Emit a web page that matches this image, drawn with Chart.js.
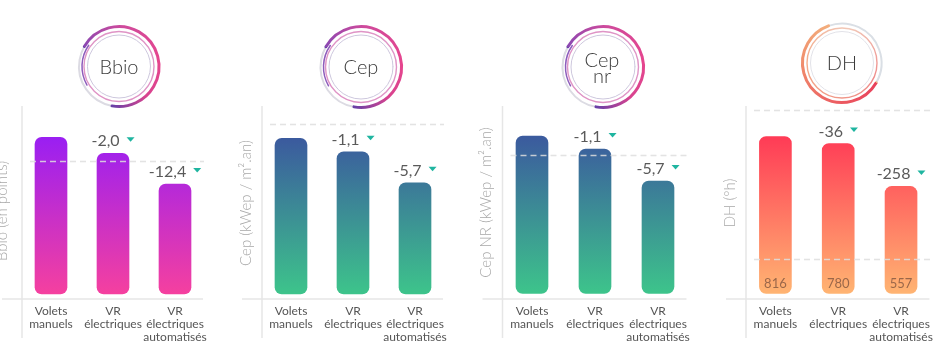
<!DOCTYPE html>
<html><head><meta charset="utf-8">
<script src="https://cdn.jsdelivr.net/npm/chart.js@4.4.1/dist/chart.umd.min.js"></script>
<style>
html,body{margin:0;padding:0;background:#fff;}
#wrap{position:relative;width:940px;height:356px;overflow:hidden;background:#fff;}
canvas{position:absolute;top:0;}
</style></head><body>
<div id="wrap">
<canvas id="c1" width="235" height="356" style="left:0px"></canvas>
<canvas id="c2" width="235" height="356" style="left:235px"></canvas>
<canvas id="c3" width="235" height="356" style="left:470px"></canvas>
<canvas id="c4" width="235" height="356" style="left:705px"></canvas>
</div>
<script>
// ---------- DATA ----------
const categories = [['Volets', 'manuels'], ['VR', 'électriques'], ['VR', 'électriques', 'automatisés']];

// Bbio: relative bar heights (Volets manuels = 100)
const bbioValues = [100, 89.8, 70.2];
const bbioDeltas = [null, '-2,0', '-12,4'];
const bbioReference = [84.9];

// Cep: relative bar heights (Volets manuels = 100)
const cepValues = [100, 91.4, 71.5];
const cepDeltas = [null, '-1,1', '-5,7'];
const cepReference = [109.2];

// Cep nr: relative bar heights (Volets manuels = 100)
const cepNrValues = [100, 91.7, 71.4];
const cepNrDeltas = [null, '-1,1', '-5,7'];
const cepNrReference = [87.9];

// DH (°h)
const dhValues = [816, 780, 557];
const dhDeltas = [null, '-36', '-258'];
const dhReference = [955, 180];

const yTitles = ['Bbio (en points)', 'Cep (kWep / m².an)', 'Cep NR (kWep / m².an)', 'DH (°h)'];
const iconLabels = [['Bbio'], ['Cep'], ['Cep', 'nr'], ['DH']];

// ---------- STYLE / LAYOUT ----------
const panels = [
  { id: 'c1', values: bbioValues, deltas: bbioDeltas, refs: bbioReference, inner: false,
    yMin: -3.19, yMax: 118.7, padL: 20, padR: 29, top: '#9a1ff2', bottom: '#f5409f',
    titleX: 7, titleY: 211, icon: { x: 119, y: 66.5, r: 40, kind: 'purple' }, iconText: iconLabels[0], title: yTitles[0] },
  { id: 'c2', values: cepValues, deltas: cepDeltas, refs: cepReference, inner: false,
    yMin: -3.21, yMax: 119.5, padL: 25, padR: 24, top: '#3b5a9e', bottom: '#3dc48b',
    titleX: 16, titleY: 203, icon: { x: 126, y: 67, r: 40.5, kind: 'purple' }, iconText: iconLabels[1], title: yTitles[1] },
  { id: 'c3', values: cepNrValues, deltas: cepNrDeltas, refs: cepNrReference, inner: false,
    yMin: -3.49, yMax: 117.8, padL: 30.5, padR: 15.5, top: '#3b5a9e', bottom: '#3dc48b',
    titleX: 21, titleY: 202.5, icon: { x: 133, y: 67, r: 40.5, kind: 'purple' }, iconText: iconLabels[2], title: yTitles[2] },
  { id: 'c4', values: dhValues, deltas: dhDeltas, refs: dhReference, inner: true,
    yMin: -28.6, yMax: 965, padL: 39, padR: 7, top: '#ff3b56', bottom: '#ffb472',
    titleX: 30, titleY: 203, icon: { x: 137, y: 63, r: 39.5, kind: 'orange' }, iconText: iconLabels[3], title: yTitles[3] }
];

function drawIcon(ctx, ic, lines) {
  const { x, y, r } = ic;
  const d = Math.PI / 180;
  ctx.save();
  ctx.lineCap = 'round';
  if (ic.kind === 'purple') {
    const s = 210 * d;
    const g = ctx.createConicGradient(s, x, y);
    g.addColorStop(0, '#8a48b2');
    g.addColorStop(0.18, '#cf4a9c');
    g.addColorStop(0.4, '#e6458e');
    g.addColorStop(0.55, '#d8438f');
    g.addColorStop(0.69, '#6a3fa6');
    g.addColorStop(1, '#6a3fa6');
    ctx.strokeStyle = '#dcdbe3'; ctx.lineWidth = 2;
    ctx.beginPath(); ctx.arc(x, y, r, 100 * d, 210 * d); ctx.stroke();
    ctx.strokeStyle = g; ctx.lineWidth = 3;
    ctx.beginPath(); ctx.arc(x, y, r, 210 * d, 460 * d); ctx.stroke();
    ctx.strokeStyle = '#8d5cbc'; ctx.lineWidth = 1.5;
    ctx.beginPath(); ctx.arc(x, y, r - 3, 150 * d, 215 * d); ctx.stroke();
    ctx.strokeStyle = '#df94c6'; ctx.lineWidth = 1.4;
    ctx.beginPath(); ctx.arc(x, y, r - 5, 0, Math.PI * 2); ctx.stroke();
    ctx.strokeStyle = '#cdc7dd'; ctx.lineWidth = 1;
    ctx.beginPath(); ctx.arc(x, y, r - 8.5, 0, Math.PI * 2); ctx.stroke();
  } else {
    const s = 30 * d;
    const g = ctx.createConicGradient(s, x, y);
    g.addColorStop(0, '#e8405a');
    g.addColorStop(0.2, '#ec5f62');
    g.addColorStop(0.42, '#f08e6c');
    g.addColorStop(0.61, '#f3ad7c');
    g.addColorStop(1, '#f3ad7c');
    ctx.strokeStyle = '#dadfe5'; ctx.lineWidth = 2;
    ctx.beginPath(); ctx.arc(x, y, r, 250 * d, 390 * d); ctx.stroke();
    ctx.strokeStyle = g; ctx.lineWidth = 3;
    ctx.beginPath(); ctx.arc(x, y, r, 30 * d, 250 * d); ctx.stroke();
    const g2 = ctx.createConicGradient(s, x, y);
    g2.addColorStop(0, '#ee8a8a');
    g2.addColorStop(0.4, '#f3a987');
    g2.addColorStop(0.7, '#f1c8b8');
    g2.addColorStop(1, '#ee8a8a');
    ctx.strokeStyle = g2; ctx.lineWidth = 1.4;
    ctx.beginPath(); ctx.arc(x, y, r - 4.5, 0, Math.PI * 2); ctx.stroke();
    ctx.strokeStyle = '#e2e2e8'; ctx.lineWidth = 1;
    ctx.beginPath(); ctx.arc(x, y, r - 8, 0, Math.PI * 2); ctx.stroke();
  }
  ctx.fillStyle = '#3c3c3c';
  ctx.font = '300 20px Lato';
  ctx.textAlign = 'center';
  ctx.textBaseline = 'alphabetic';
  if (lines.length === 1) {
    ctx.fillText(lines[0], x, y + 7);
  } else {
    ctx.fillText(lines[0], x - 1, y - 0.5);
    ctx.fillText(lines[1], x - 1, y + 16);
  }
  ctx.restore();
}

const panelPlugin = {
  id: 'panelDeco',
  beforeDatasetsDraw(chart, args, o) {
    const { ctx, chartArea: a } = chart;
    ctx.save();
    ctx.strokeStyle = '#e6e6e6';
    ctx.lineWidth = 1.5;
    ctx.beginPath();
    ctx.moveTo(a.left + 2, 106); ctx.lineTo(a.left + 2, 338);
    ctx.moveTo(a.left - 18, a.bottom); ctx.lineTo(a.right - 3, a.bottom);
    ctx.stroke();
    ctx.restore();
  },
  afterDatasetsDraw(chart, args, o) {
    const { ctx, chartArea: a } = chart;
    const ys = chart.scales.y;
    const p = o.panel;
    ctx.save();
    ctx.strokeStyle = 'rgba(222,222,222,0.85)';
    ctx.lineWidth = 1.5;
    ctx.setLineDash([6, 4]);
    p.refs.forEach(v => {
      const py = Math.round(ys.getPixelForValue(v)) + 0.5;
      ctx.beginPath(); ctx.moveTo(a.left + 10, py); ctx.lineTo(a.right - 2, py); ctx.stroke();
    });
    ctx.setLineDash([]);
    const meta = chart.getDatasetMeta(0);
    meta.data.forEach((bar, i) => {
      const txt = p.deltas[i];
      if (txt) {
        ctx.font = '16px Lato';
        const tw = ctx.measureText(txt).width;
        const total = tw + 7 + 8;
        const sx = bar.x - total / 2;
        const base = bar.y - 7;
        ctx.fillStyle = '#5a5a5a';
        ctx.textAlign = 'left';
        ctx.textBaseline = 'alphabetic';
        ctx.fillText(txt, sx, base);
        const tx = sx + tw + 7;
        ctx.fillStyle = '#1fb5a0';
        ctx.beginPath();
        ctx.moveTo(tx, base - 9);
        ctx.lineTo(tx + 8, base - 9);
        ctx.lineTo(tx + 4, base - 4.5);
        ctx.closePath();
        ctx.fill();
      }
      if (p.inner) {
        ctx.font = '13px Lato';
        ctx.fillStyle = 'rgba(120,80,60,0.75)';
        ctx.textAlign = 'center';
        ctx.textBaseline = 'alphabetic';
        ctx.fillText(String(p.values[i]), bar.x, bar.base - 6);
      }
    });
    ctx.save();
    ctx.translate(p.titleX, p.titleY);
    ctx.rotate(-Math.PI / 2);
    ctx.font = '300 15px Lato';
    ctx.fillStyle = '#a8a8a8';
    ctx.textAlign = 'center';
    ctx.textBaseline = 'alphabetic';
    ctx.fillText(p.title, 0, 0);
    ctx.restore();
    drawIcon(ctx, p.icon, p.iconText);
    ctx.restore();
  }
};

function build() {
  panels.forEach(p => {
    const ctx = document.getElementById(p.id).getContext('2d');
    new Chart(ctx, {
      type: 'bar',
      data: {
        labels: categories,
        datasets: [{
          data: p.values,
          backgroundColor: (c) => {
            const ch = c.chart;
            const a = ch.chartArea;
            if (!a) return p.bottom;
            const ys = ch.scales.y;
            const y0 = ys.getPixelForValue(0);
            const y1 = ys.getPixelForValue(Math.max(...p.values));
            const g = ch.ctx.createLinearGradient(0, y1, 0, y0);
            g.addColorStop(0, p.top);
            g.addColorStop(1, p.bottom);
            return g;
          },
          borderWidth: 0,
          borderRadius: 7,
          borderSkipped: false,
          barThickness: 32
        }]
      },
      options: {
        responsive: false,
        animation: false,
        events: [],
        layout: { padding: { left: p.padL, right: p.padR, top: 108, bottom: 0 } },
        plugins: { legend: { display: false }, tooltip: { enabled: false }, panelDeco: { panel: p } },
        scales: {
          x: {
            grid: { display: false, drawTicks: false, tickLength: 0 },
            border: { display: false },
            ticks: { color: '#555', font: { family: 'Lato', size: 12, lineHeight: 1.06 }, padding: 6, maxRotation: 0, autoSkip: false },
            afterFit: (s) => { s.height = 57; }
          },
          y: { display: false, min: p.yMin, max: p.yMax }
        }
      },
      plugins: [panelPlugin]
    });
  });
}

Promise.all([
  document.fonts.load('300 20px Lato'),
  document.fonts.load('16px Lato'),
  document.fonts.load('12px Lato')
]).then(build, build);
</script>
</body></html>
